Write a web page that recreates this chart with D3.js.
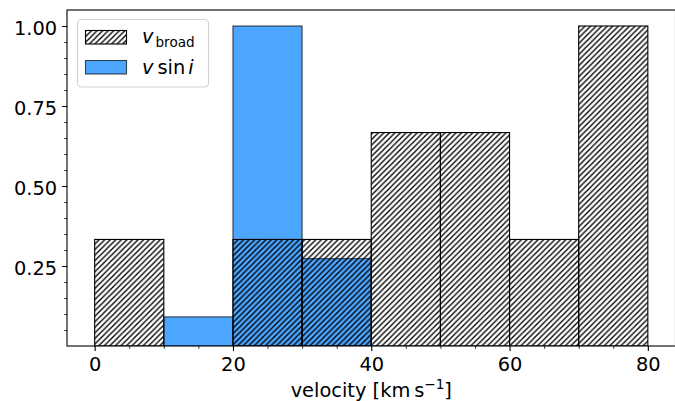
<!DOCTYPE html>
<html>
<head>
<meta charset="utf-8">
<script src="https://cdn.jsdelivr.net/npm/d3@7"></script>
<style>
  html, body { margin: 0; padding: 0; background: #fff; }
  svg { display: block; font-family: "DejaVu Sans", sans-serif; }
</style>
</head>
<body>
<script>
// Histogram bins (km/s) and normalised counts for the two velocity measures
const binEdges = [0, 10, 20, 30, 40, 50, 60, 70, 80];
const vBroad   = [0.333, 0, 0.333, 0.333, 0.667, 0.667, 0.333, 1.0];
const vSini    = [0, 0.091, 1.0, 0.273, 0, 0, 0, 0];

// Axis ticks
const xTicks      = [0, 20, 40, 60, 80];
const xMinorTicks = [5, 10, 15, 25, 30, 35, 45, 50, 55, 65, 70, 75];
const yTicks      = [0.25, 0.5, 0.75, 1.0];
const yMinorTicks = [0.05, 0.1, 0.15, 0.2, 0.3, 0.35, 0.4, 0.45, 0.55, 0.6, 0.65, 0.7, 0.8, 0.85, 0.9, 0.95];

const W = 675, H = 401;
const plot = { left: 67, right: 675.5, top: 10, bottom: 346 };
const fontSize = 19.4;

const svg = d3.select("body").append("svg").attr("width", W).attr("height", H);

const x = d3.scaleLinear().domain([-4, 84]).range([plot.left, plot.right]);
const y = d3.scaleLinear().domain([0, 1.05]).range([plot.bottom, plot.top]);

// diagonal '///' hatch
const hs = 100 / 18;
const defs = svg.append("defs");
defs.append("pattern")
  .attr("id", "hatch")
  .attr("patternUnits", "userSpaceOnUse")
  .attr("width", hs).attr("height", hs)
  .append("path")
  .attr("d", `M0,${hs} L${hs},0 M${-hs / 2},${hs / 2} L${hs / 2},${-hs / 2} M${hs / 2},${hs * 1.5} L${hs * 1.5},${hs / 2}`)
  .attr("stroke", "#000").attr("stroke-width", 1.35).attr("fill", "none");

const bins = binEdges.slice(0, -1).map((lo, i) => ({ lo, hi: binEdges[i + 1], broad: vBroad[i], sini: vSini[i] }));

const clip = defs.append("clipPath").attr("id", "plotclip");
clip.append("rect").attr("x", plot.left).attr("y", plot.top)
  .attr("width", plot.right - plot.left).attr("height", plot.bottom - plot.top);

const g = svg.append("g").attr("clip-path", "url(#plotclip)");

// v sin i: translucent blue
g.selectAll("rect.sini")
  .data(bins.filter(d => d.sini > 0))
  .join("rect")
  .attr("class", "sini")
  .attr("x", d => x(d.lo)).attr("width", d => x(d.hi) - x(d.lo))
  .attr("y", d => y(d.sini)).attr("height", d => y(0) - y(d.sini))
  .attr("fill", "rgb(0,128,255)").attr("fill-opacity", 0.7)
  .attr("stroke", "#000").attr("stroke-opacity", 0.7).attr("stroke-width", 1.1);

// v_broad: hatched, unfilled, on top
g.selectAll("rect.broad")
  .data(bins.filter(d => d.broad > 0))
  .join("rect")
  .attr("class", "broad")
  .attr("x", d => x(d.lo)).attr("width", d => x(d.hi) - x(d.lo))
  .attr("y", d => y(d.broad)).attr("height", d => y(0) - y(d.broad))
  .attr("fill", "url(#hatch)")
  .attr("stroke", "#000").attr("stroke-width", 1.1);

// axes
function styleAxis(sel) {
  sel.select(".domain").remove();
  sel.selectAll("line").attr("stroke", "#000").attr("stroke-width", 1.1);
  sel.selectAll("text").attr("fill", "#000").attr("font-size", fontSize).attr("font-family", "DejaVu Sans");
}

const xAxis = svg.append("g").attr("transform", `translate(0,${plot.bottom})`)
  .call(d3.axisBottom(x).tickValues(xTicks).tickSize(4.9).tickPadding(4.9).tickFormat(d3.format("d")));
styleAxis(xAxis);
xAxis.selectAll("text").attr("dy", "0.78em");

const xMinor = svg.append("g").attr("transform", `translate(0,${plot.bottom})`)
  .call(d3.axisBottom(x).tickValues(xMinorTicks).tickSize(2.8).tickFormat(""));
styleAxis(xMinor);
xMinor.selectAll("line").attr("stroke-width", 0.8);

const yAxis = svg.append("g").attr("transform", `translate(${plot.left},0)`)
  .call(d3.axisLeft(y).tickValues(yTicks).tickSize(4.9).tickPadding(4.9).tickFormat(d3.format(".2f")));
styleAxis(yAxis);
yAxis.selectAll("text").attr("dy", "0.46em");

const yMinor = svg.append("g").attr("transform", `translate(${plot.left},0)`)
  .call(d3.axisLeft(y).tickValues(yMinorTicks).tickSize(2.8).tickFormat(""));
styleAxis(yMinor);
yMinor.selectAll("line").attr("stroke-width", 0.8);

// spines
svg.append("rect")
  .attr("x", plot.left).attr("y", plot.top)
  .attr("width", plot.right - plot.left).attr("height", plot.bottom - plot.top)
  .attr("fill", "none").attr("stroke", "#000").attr("stroke-width", 1.1);

// x label
const xl = svg.append("text")
  .attr("x", (plot.left + plot.right) / 2).attr("y", 397)
  .attr("text-anchor", "middle").attr("font-size", fontSize).attr("fill", "#000");
xl.append("tspan").text("velocity [km\u2009s");
xl.append("tspan").attr("font-size", fontSize * 0.7).attr("dy", -8).text("\u22121");
xl.append("tspan").attr("dy", 8).text("]");

// legend
const lg = svg.append("g");
lg.append("rect")
  .attr("x", 77.5).attr("y", 19.5).attr("width", 131).attr("height", 67.5).attr("rx", 4)
  .attr("fill", "#fff").attr("fill-opacity", 0.8)
  .attr("stroke", "#d0d0d0").attr("stroke-width", 1.1);

lg.append("rect")
  .attr("x", 85.5).attr("y", 30.5).attr("width", 41).attr("height", 13.5)
  .attr("fill", "url(#hatch)").attr("stroke", "#000").attr("stroke-width", 1.1);
lg.append("rect")
  .attr("x", 85.5).attr("y", 60.5).attr("width", 41).attr("height", 13.5)
  .attr("fill", "rgb(0,128,255)").attr("fill-opacity", 0.7)
  .attr("stroke", "#000").attr("stroke-opacity", 0.7).attr("stroke-width", 1.1);

const t1 = lg.append("text").attr("x", 142).attr("y", 43).attr("font-size", fontSize).attr("fill", "#000");
t1.append("tspan").attr("font-style", "italic").text("v");
t1.append("tspan").attr("font-size", fontSize * 0.7).attr("dx", 2).attr("dy", 4).text("broad");

const t2 = lg.append("text").attr("x", 142).attr("y", 73.5).attr("font-size", fontSize).attr("fill", "#000");
t2.append("tspan").attr("font-style", "italic").text("v");
t2.append("tspan").attr("dx", 4).text("sin");
t2.append("tspan").attr("dx", 3).attr("font-style", "italic").text("i");
</script>
</body>
</html>
